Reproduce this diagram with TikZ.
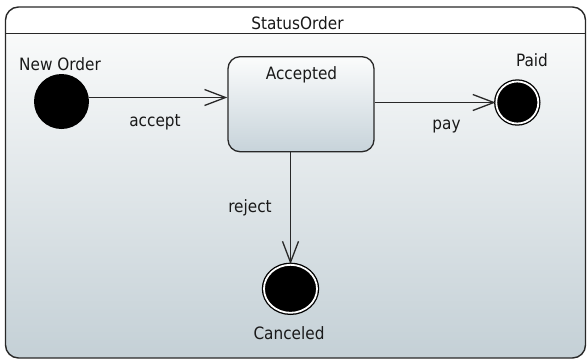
\documentclass[tikz,border=0pt]{standalone}
\usepackage{fontspec}
\setmainfont{DejaVu Sans Condensed}
\usetikzlibrary{arrows.meta,shapes.geometric}
\definecolor{bgtop}{RGB}{249,250,250}
\definecolor{bgbot}{RGB}{196,208,214}
\definecolor{boxtop}{RGB}{251,252,252}
\definecolor{boxbot}{RGB}{199,211,218}
\definecolor{edge}{RGB}{40,40,40}
\begin{document}
\begin{tikzpicture}[x=1pt,y=-1pt,
  lbl/.style={font=\fontsize{17}{20}\selectfont, anchor=base, inner sep=0pt, text=black!90},
  arr/.style={draw=edge, line width=1.3pt, -{Straight Barb[length=21pt,width=16pt]}},
  finalstate/.style={fill=black, draw=black, double=white, double distance=1.8pt, line width=1.3pt, inner sep=0pt}
  ]
\useasboundingbox (0,0) rectangle (587,360);
% frame
\begin{scope}
\clip[rounded corners=13pt] (5.5,7) rectangle (585.5,358);
\fill[white] (5,6) rectangle (586,33.5);
\shade[top color=bgtop,bottom color=bgbot] (5,33.5) rectangle (586,359);
\end{scope}
\draw[edge,line width=1.4pt,rounded corners=13pt] (5.5,7) rectangle (585.5,358);
\draw[edge,line width=1.2pt] (5.5,33.5) -- (585.5,33.5);
\node[lbl] (title) at (297.5,29.3) {StatusOrder};
% states
\node[circle, fill=black, minimum size=55pt, inner sep=0pt] (start) at (61.5,101.5) {};
\node[lbl] (startlbl) at (60,70) {New Order};
\node[draw=edge, line width=1.3pt, rounded corners=12pt, top color=boxtop, bottom color=boxbot,
      minimum width=146pt, minimum height=95pt, inner sep=0pt] (acc) at (301,104.2) {};
\node[lbl] (acclbl) at (301.5,79) {Accepted};
\node[finalstate, circle, minimum size=42pt] (paid) at (517.3,102.5) {};
\node[lbl] (paidlbl) at (532,66) {Paid};
\node[finalstate, ellipse, minimum width=53pt, minimum height=48pt] (can) at (290.5,288.8) {};
\node[lbl] (canlbl) at (289,339) {Canceled};
% transitions
\draw[arr] ([yshift=4pt]start.east) -- ([yshift=4pt]start.east -| acc.west);
\node[lbl] (acceptlbl) at (155,126.7) {accept};
\draw[arr] (acc.east |- paid.west) -- (paid.west);
\node[lbl] (paylbl) at (446.5,129.5) {pay};
\draw[arr] (acc.south -| can.north) -- (can.north);
\node[lbl] (rejectlbl) at (250,212) {reject};
\end{tikzpicture}
\end{document}
